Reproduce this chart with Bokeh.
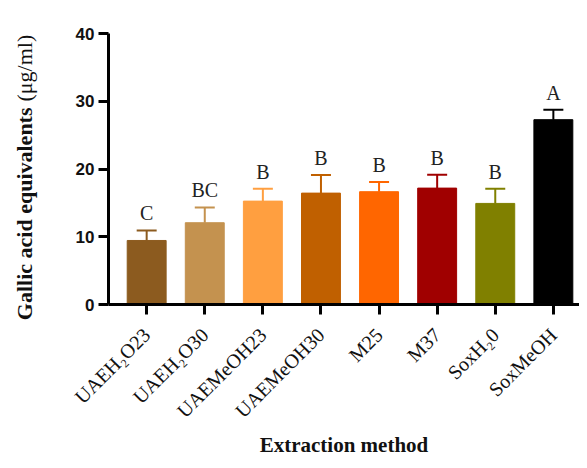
import numpy as np
from bokeh.plotting import figure
from bokeh.layouts import row
from bokeh.models import Range1d, FixedTicker, ColumnDataSource
from bokeh.embed import file_html
from bokeh.resources import INLINE
from bokeh.core.properties import value

# ---- data ----
methods = ["UAEH₂O23", "UAEH₂O30", "UAEMeOH23", "UAEMeOH30", "M25", "M37", "SoxH₂0", "SoxMeOH"]
means = [9.45, 12.07, 15.26, 16.44, 16.65, 17.18, 14.92, 27.28]
errors = [1.48, 2.26, 1.83, 2.66, 1.42, 1.98, 2.17, 1.48]
letters = ["C", "BC", "B", "B", "B", "B", "B", "A"]
colors = ["#8C5B1F", "#C4924F", "#FF9F40", "#C06000", "#FF6600", "#A00000", "#808000", "#000000"]
y_ticks = [0, 10, 20, 30, 40]
x_title = "Extraction method"
y_title_bold = "Gallic acid equivalents"
y_title_unit = "(μg/ml)"

xs = list(range(len(methods)))
tops = [m + e for m, e in zip(means, errors)]
src = ColumnDataSource(dict(
    x=xs, mean=means, top=tops, letter=letters, color=colors,
    cap_l=[x - 0.172 for x in xs], cap_r=[x + 0.172 for x in xs],
))

H = 460
LW = 48  # width of the strip holding the vertical axis title
SERIF = "Liberation Serif"

# ---- strip with the y-axis title (real SVG text) ----
yl = figure(width=LW, height=H, output_backend="svg", toolbar_location=None,
            x_range=Range1d(0, LW), y_range=Range1d(0, H), x_axis_type=None, y_axis_type=None,
            min_border_left=0, min_border_right=0, min_border_top=0, min_border_bottom=0)
try:
    yl.frame_align = False  # keep this strip's frame the full height
except Exception:
    pass
yl.outline_line_color = None
yl.grid.visible = False
yl.text(x=[24], y=[H - 107], text=[y_title_bold], angle=np.pi / 2, text_align="right",
        text_baseline="middle", text_font=value(SERIF), text_font_style=value("bold"),
        text_font_size=value("22px"), text_color="#111111")
yl.text(x=[24], y=[H - 101], text=[y_title_unit], angle=np.pi / 2, text_align="left",
        text_baseline="middle", text_font=value(SERIF),
        text_font_size=value("22px"), text_color="#111111")

# ---- main chart ----
p = figure(width=579 - LW, height=H, output_backend="svg", toolbar_location=None,
           x_range=Range1d(-0.657, 7.45), y_range=Range1d(0, 40),
           min_border_left=108 - LW, min_border_right=0, min_border_top=33, min_border_bottom=156)
try:
    p.frame_align = False
except Exception:
    pass
p.outline_line_color = None
p.xgrid.visible = False
p.ygrid.visible = False
p.background_fill_color = None
p.border_fill_color = "white"

p.vbar(x="x", top="mean", width=0.67, bottom=0, fill_color="color", line_color="color", source=src)
p.segment(x0="x", y0="mean", x1="x", y1="top", line_color="color", line_width=2, source=src)
p.segment(x0="cap_l", y0="top", x1="cap_r", y1="top", line_color="color", line_width=2, source=src)
p.text(x="x", y="top", text="letter", source=src, text_align="center", text_baseline="bottom",
       y_offset=-6, text_font=value(SERIF), text_font_size=value("20px"),
       text_color="#222222")

for ax in (p.xaxis[0], p.yaxis[0]):
    ax.axis_line_width = 3
    ax.axis_line_color = "black"
    ax.major_tick_line_width = 3
    ax.major_tick_line_color = "black"
    ax.major_tick_out = 10
    ax.major_tick_in = 0
    ax.minor_tick_line_color = None

p.xaxis.ticker = FixedTicker(ticks=xs)
p.xaxis.major_label_overrides = {i: m for i, m in enumerate(methods)}
p.xaxis.major_label_orientation = np.pi / 4
p.xaxis.major_label_text_font = SERIF
p.xaxis.major_label_text_font_size = "20px"
p.xaxis.major_label_text_color = "#111111"
p.xaxis.major_label_standoff = 17
p.xaxis.axis_label = x_title
p.xaxis.axis_label_text_font = SERIF
p.xaxis.axis_label_text_font_style = "bold"
p.xaxis.axis_label_text_font_size = "21px"
p.xaxis.axis_label_text_color = "#111111"
p.xaxis.axis_label_standoff = 0

p.yaxis.ticker = FixedTicker(ticks=y_ticks)
p.yaxis.major_label_text_font = "Liberation Sans"
p.yaxis.major_label_text_font_style = "bold"
p.yaxis.major_label_text_font_size = "17px"
p.yaxis.major_label_text_color = "#111111"
p.yaxis.major_label_standoff = 4

layout = row(yl, p, spacing=0)
open("out.html", "w").write(file_html(layout, INLINE))
